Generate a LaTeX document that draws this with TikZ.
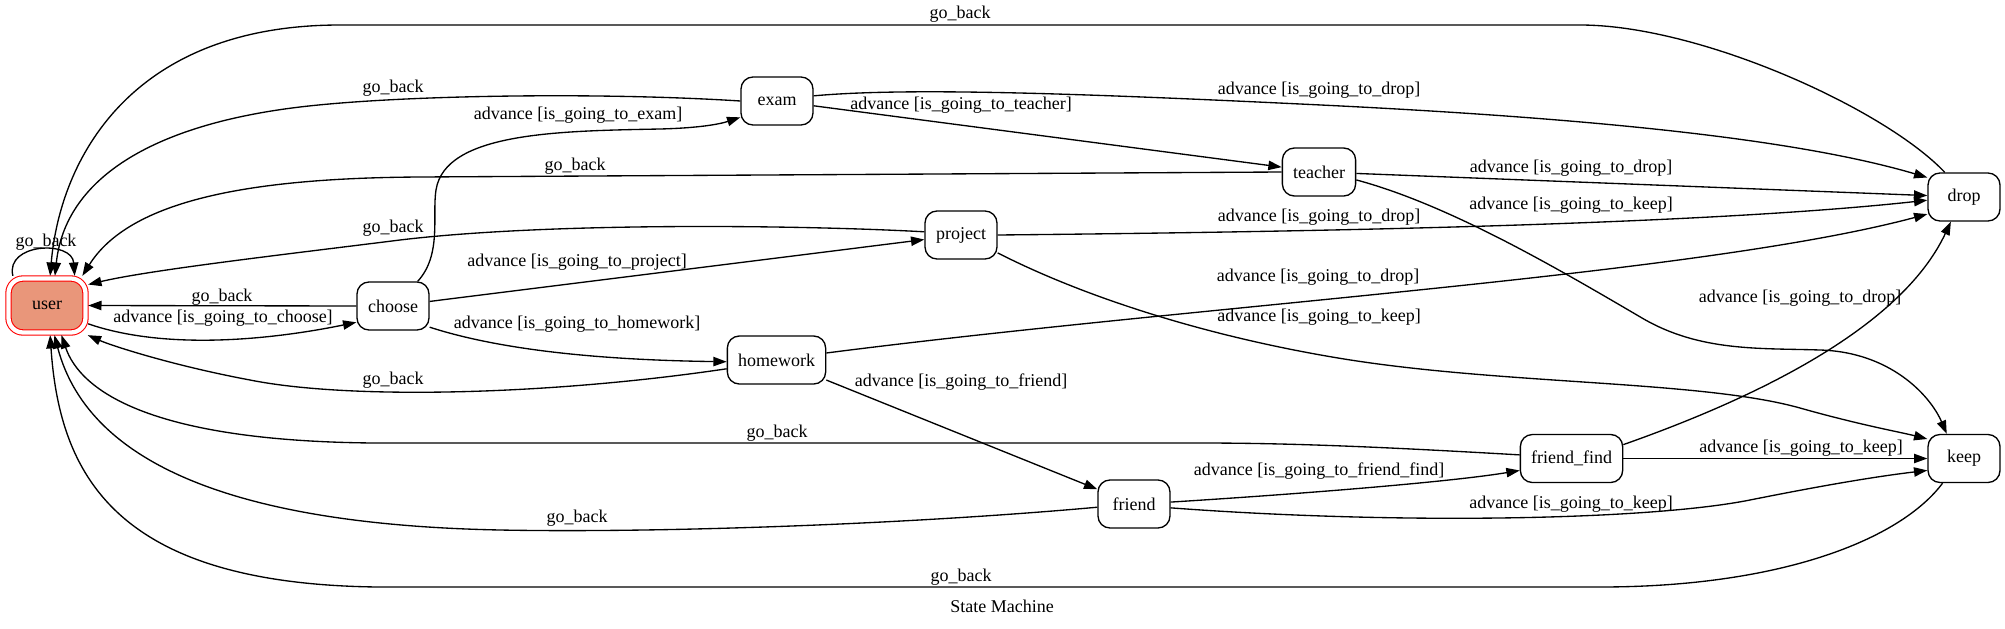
\documentclass[tikz,border=0pt]{standalone}
\usepackage{fontspec}
\setmainfont{Liberation Serif}
\usetikzlibrary{arrows.meta}
\definecolor{usersalmon}{HTML}{E9967A}
\begin{document}
\begin{tikzpicture}[x=0.75pt,y=-0.75pt,
  font=\fontsize{13.5}{16}\selectfont,
  state/.style={draw, line width=1pt, rounded corners=9pt, minimum width=54pt, minimum height=36pt, inner xsep=8pt, inner ysep=0pt},
  initstate/.style={draw=red, fill=usersalmon, line width=0.8pt, double=white, double distance=3.2pt, rounded corners=11pt, minimum width=57.75pt, minimum height=40.5pt, outer sep=2pt},
  edge/.style={line width=1pt, -{Triangle[length=10pt,width=7pt]}},
  lbl/.style={inner sep=0pt}]
\useasboundingbox (0,0) rectangle (2005,628);

\node[initstate] (user) at (47,305.5) {user};
\node[state] (choose) at (393,306) {choose};
\node[state] (exam) at (777,101) {exam};
\node[state] (teacher) at (1319,172) {teacher};
\node[state] (project) at (961,235) {project};
\node[state] (homework) at (776.5,360) {homework};
\node[state] (friend) at (1134,504) {friend};
\node[state] (friendfind) at (1571.5,458.5) {friend\_find};
\node[state] (keep) at (1964,458.5) {keep};
\node[state] (drop) at (1964,197) {drop};

% self loop
\draw[edge] (user.139) .. controls (5,243) and (72,240) .. (user.47);
\node[lbl] (l1) at (46,242) {go\_back};

% user -> choose
\draw[edge] (user.-24) .. controls (170,352) and (280,338) .. (choose.204);
\node[lbl] (l2) at (223,318) {advance [is\_going\_to\_choose]};

% choose -> user
\draw[edge] (choose.west) -- (user.east);
\node[lbl] (l3) at (222,297) {go\_back};

% choose -> exam
\draw[edge] (choose.45) .. controls (442,255) and (432,215) .. (436,190) .. controls (445,132) and (560,131) .. (660,129) .. controls (700,128) and (720,124) .. (exam.204);
\node[lbl] (l4) at (578,115) {advance [is\_going\_to\_exam]};

% exam -> user
\draw[edge] (exam.west) .. controls (600,92) and (400,95) .. (300,107) .. controls (150,125) and (65,180) .. (user.75);
\node[lbl] (l5) at (393,88) {go\_back};

% drop -> user (top arc)
\draw[edge] (drop.128) .. controls (1885,109) and (1700,25) .. (1580,25) -- (340,25) .. controls (130,25) and (60,160) .. (user.84);
\node[lbl] (l6) at (960,14) {go\_back};

% exam -> drop
\draw[edge] (exam.8) .. controls (900,88) and (1050,92) .. (1300,104) .. controls (1600,118) and (1800,140) .. (drop.152);
\node[lbl] (l7) at (1319,90) {advance [is\_going\_to\_drop]};

% exam -> teacher
\draw[edge] (exam) -- (teacher);
\node[lbl] (l8) at (961,105) {advance [is\_going\_to\_teacher]};

% teacher -> user
\draw[edge] (teacher.west) -- (420,177) .. controls (250,178) and (130,200) .. (user.40);
\node[lbl] (l9) at (575,166) {go\_back};

% teacher -> drop
\draw[edge] (teacher) -- (drop);
\node[lbl] (l10) at (1571,168) {advance [is\_going\_to\_drop]};

% teacher -> keep
\draw[edge] (teacher.-12) .. controls (1450,205) and (1560,270) .. (1642,318) .. controls (1700,352) and (1760,348) .. (1820,350) .. controls (1890,352) and (1930,395) .. (keep.125);
\node[lbl] (l11) at (1571,205) {advance [is\_going\_to\_keep]};

% project -> user
\draw[edge] (project.175) .. controls (800,225) and (550,222) .. (400,240) .. controls (280,255) and (150,270) .. (user.27);
\node[lbl] (l12) at (393,228) {go\_back};

% project -> drop
\draw[edge] (project.east) .. controls (1300,232) and (1700,225) .. (drop.185);
\node[lbl] (l13) at (1319,217) {advance [is\_going\_to\_drop]};

% project -> keep
\draw[edge] (project.-26) .. controls (1080,295) and (1200,335) .. (1338,358) .. controls (1500,385) and (1700,380) .. (1800,408) .. controls (1860,425) and (1900,432) .. (keep.152);
\node[lbl] (l14) at (1319,317) {advance [is\_going\_to\_keep]};

% choose -> project
\draw[edge] (choose) -- (project);
\node[lbl] (l15) at (577,262) {advance [is\_going\_to\_project]};

% choose -> homework
\draw[edge] (choose.-30) .. controls (500,350) and (600,360) .. (homework.182);
\node[lbl] (l16) at (577,324) {advance [is\_going\_to\_homework]};

% homework -> user
\draw[edge] (homework.190) .. controls (550,395) and (350,400) .. (250,380) .. controls (170,365) and (110,345) .. (user.-36);
\node[lbl] (l17) at (393,380) {go\_back};

% homework -> drop
\draw[edge] (homework.8) .. controls (1200,305) and (1700,275) .. (drop.205);
\node[lbl] (l18) at (1318,277) {advance [is\_going\_to\_drop]};

% homework -> friend
\draw[edge] (homework) -- (friend);
\node[lbl] (l19) at (961,382) {advance [is\_going\_to\_friend]};

% friend_find -> user
\draw[edge] (friendfind.176) .. controls (1400,448) and (1300,443) .. (1200,443) -- (400,443) .. controls (150,445) and (80,390) .. (user.-64);
\node[lbl] (l20) at (777,433) {go\_back};

% friend_find -> drop
\draw[edge] (friendfind.15) .. controls (1750,400) and (1900,330) .. (drop.-118);
\node[lbl] (l21) at (1800,298) {advance [is\_going\_to\_drop]};

% friend_find -> keep
\draw[edge] (friendfind) -- (keep);
\node[lbl] (l22) at (1801,448) {advance [is\_going\_to\_keep]};

% friend -> friend_find
\draw[edge] (friend.3) .. controls (1300,494) and (1450,482) .. (friendfind.193);
\node[lbl] (l23) at (1319,471) {advance [is\_going\_to\_friend\_find]};

% friend -> keep
\draw[edge] (friend.-6) .. controls (1400,525) and (1650,520) .. (1750,500) .. controls (1830,484) and (1880,476) .. (keep.198);
\node[lbl] (l24) at (1571,504) {advance [is\_going\_to\_keep]};

% friend -> user
\draw[edge] (friend.185) .. controls (900,525) and (650,533) .. (500,530) .. controls (250,525) and (90,470) .. (user.-76);
\node[lbl] (l25) at (577,518) {go\_back};

% keep -> user
\draw[edge] (keep.229) .. controls (1900,540) and (1780,587) .. (1600,587) -- (400,587) .. controls (120,590) and (60,480) .. (user.-84);
\node[lbl] (l26) at (961,577) {go\_back};

\node[lbl] (title) at (1002,606) {State Machine};
\end{tikzpicture}
\end{document}
